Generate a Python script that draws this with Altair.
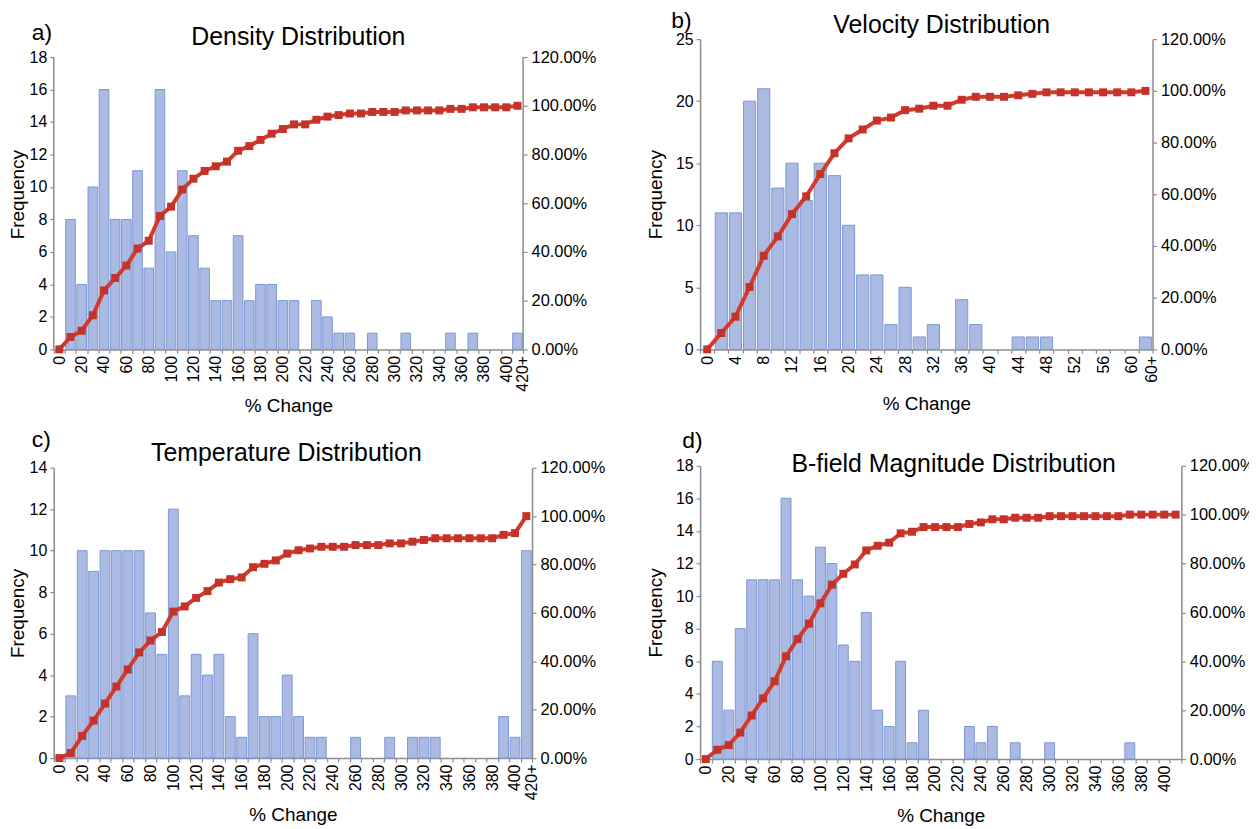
import altair as alt
import pandas as pd

FONT = "Liberation Sans"
BAR_FILL = "#aabae2"
BAR_STROKE = "#7b97d5"
LINE_COLOR = "#d23a2c"
MARK_COLOR = "#c5322a"
AXIS_GREY = "#8c8c8c"

# ---------------- data ----------------
density_cats = [str(v) for v in range(0, 401, 10)] + ["420+"]
density_freq = [0, 8, 4, 10, 16, 8, 8, 11, 5, 16,
                6, 11, 7, 5, 3, 3, 7, 3, 4, 4,
                3, 3, 0, 3, 2, 1, 1, 0, 1, 0,
                0, 1, 0, 0, 0, 1, 0, 1, 0, 0,
                0, 1]
density_shown = [str(v) for v in range(0, 401, 20)]

velocity_cats = [str(v) for v in range(0, 61, 2)] + ["60+"]
velocity_freq = [0, 11, 11, 20, 21, 13, 15, 12, 15, 14,
                 10, 6, 6, 2, 5, 1, 2, 0, 4, 2,
                 0, 0, 1, 1, 1, 0, 0, 0, 0, 0,
                 0, 1]
velocity_shown = [str(v) for v in range(0, 61, 4)]

temperature_cats = [str(v) for v in range(0, 401, 10)] + ["420+"]
temperature_freq = [0, 3, 10, 9, 10, 10, 10, 10, 7, 5,
                    12, 3, 5, 4, 5, 2, 1, 6, 2, 2,
                    4, 2, 1, 1, 0, 0, 1, 0, 0, 1,
                    0, 1, 1, 1, 0, 0, 0, 0, 0, 2,
                    1, 10]
temperature_shown = [str(v) for v in range(0, 401, 20)]

bfield_cats = [str(v) for v in range(0, 411, 10)]
bfield_freq = [0, 6, 3, 8, 11, 11, 11, 16, 11, 10,
               13, 12, 7, 6, 9, 3, 2, 6, 1, 3,
               0, 0, 0, 2, 1, 2, 0, 1, 0, 0,
               1, 0, 0, 0, 0, 0, 0, 1, 0, 0,
               0, 0]
bfield_shown = [str(v) for v in range(0, 401, 20)]

titles = ["Density Distribution", "Velocity Distribution",
          "Temperature Distribution", "B-field Magnitude Distribution"]
tags = ["a)", "b)", "c)", "d)"]
pct_ticks = [0, 0.2, 0.4, 0.6, 0.8, 1.0, 1.2]


def text_layer(txt, x, y, size, align="left", baseline="middle"):
    return alt.Chart(pd.DataFrame({"t": [txt]})).mark_text(
        font=FONT, fontSize=size, align=align, baseline=baseline, color="black"
    ).encode(text="t:N", x=alt.value(x), y=alt.value(y))


def panel(cats, freq, shown, ymax, ystep, title, tag, w, h,
          title_x, title_y, tag_x, tag_y, ytp, xtp=15, plus=None, plus_off=0, h_vis=None):
    n = len(cats)
    df = pd.DataFrame({"cat": cats, "freq": freq, "idx": list(range(n))})
    base = alt.Chart(df)
    # when h_vis is given, the axes occupy only the lower h_vis pixels of a taller view
    stretch = (h / h_vis) if h_vis else 1.0
    ydom = [0, ymax * stretch]
    pdom = [0, 1.2 * stretch]
    own_domain = h_vis is None
    shown_js = "[" + ",".join("'%s'" % s for s in shown) + "]"
    xenc = alt.X("cat:O", sort=cats,
                 scale=alt.Scale(paddingInner=0, paddingOuter=0),
                 axis=alt.Axis(
                     orient="bottom",
                     title="% Change", labelAngle=-90, labelOverlap=False,
                     labelExpr="indexof(%s, datum.value) >= 0 ? datum.label : ''" % shown_js,
                     tickBand="extent", tickSize=4, labelPadding=2, titlePadding=xtp))
    bars = base.transform_filter("datum.freq > 0").mark_bar(
        fill=BAR_FILL, stroke=BAR_STROKE, strokeWidth=1,
        width=alt.RelativeBandSize(0.86)).encode(
        x=xenc,
        y=alt.Y("freq:Q", scale=alt.Scale(domain=ydom, nice=False),
                axis=alt.Axis(orient="left", title="Frequency",
                              values=list(range(0, ymax + 1, ystep)),
                              domain=own_domain,
                              tickSize=4, labelPadding=3, titlePadding=ytp)),
    )
    if plus:
        line_x_axis = alt.Axis(orient="bottom", values=[plus], labelOffset=plus_off,
                               ticks=False, domain=False, title=None,
                               labelAngle=-90, labelPadding=6, labelOverlap=False)
    else:
        line_x_axis = None
    line = base.transform_window(
        cum="sum(freq)", sort=[alt.SortField("idx")]
    ).transform_joinaggregate(tot="sum(freq)").transform_calculate(
        pct="datum.cum / datum.tot"
    ).mark_line(color=LINE_COLOR, strokeWidth=4,
                point=alt.OverlayMarkDef(shape="square", size=64, filled=True,
                                         color=MARK_COLOR, opacity=1)).encode(
        x=alt.X("cat:O", sort=cats, axis=line_x_axis),
        y=alt.Y("pct:Q", scale=alt.Scale(domain=pdom, nice=False),
                axis=alt.Axis(orient="right", title=None, format=".2%",
                              values=pct_ticks, tickSize=4, labelPadding=4,
                              domain=own_domain, labelFontSize=16.5)),
        order=alt.Order("idx:Q"),
    )
    layers = [bars, line]
    if not own_domain:
        # axis lines drawn only over the 0..ymax span of the frequency scale
        for xpos in (0, w):
            layers.append(alt.Chart(pd.DataFrame({"lo": [0], "hi": [ymax]})).mark_rule(
                color=AXIS_GREY, strokeWidth=1.5).encode(
                x=alt.value(xpos),
                y=alt.Y("lo:Q", scale=alt.Scale(domain=ydom, nice=False), axis=None),
                y2="hi:Q"))
    layers += [text_layer(tag, tag_x, tag_y, 23),
               text_layer(title, title_x, title_y, 25, align="center")]
    return alt.layer(*layers).resolve_scale(y="independent").resolve_axis(
        x="independent").properties(width=w, height=h)


pa = panel(density_cats, density_freq, density_shown, 18, 2, titles[0], tags[0],
           472, 312, 246, -2, -22, -6, 2, plus="420+", plus_off=5.6, h_vis=294)
pb = panel(velocity_cats, velocity_freq, velocity_shown, 25, 5, titles[1], tags[1],
           455, 312, 243, -14, -29, -18, 10, xtp=22, plus="60+", plus_off=7)
pc = panel(temperature_cats, temperature_freq, temperature_shown, 14, 2, titles[2], tags[2],
           481, 292, 234, -15, -22, -28, 2, plus="420+", plus_off=5.7)
pd_ = panel(bfield_cats, bfield_freq, bfield_shown, 18, 2, titles[3], tags[3],
            484, 295, 255, -2, -18, -25, 10)

col1 = alt.vconcat(pa, pc, spacing=13)
col2 = alt.vconcat(pb, pd_, spacing=16)

chart = alt.hconcat(col1, col2, spacing=41).properties(
    padding={"left": 0, "top": 0, "right": -6, "bottom": 0}
).configure_view(stroke=None).configure_axis(
    labelFont=FONT, titleFont=FONT, labelFontSize=16, titleFontSize=19,
    titleFontWeight="normal", labelColor="black", titleColor="black",
    domainColor=AXIS_GREY, tickColor=AXIS_GREY, domainWidth=1.5,
    tickWidth=1.2, grid=False,
)

chart.save("out.html", embed_options={"renderer": "svg", "actions": False})
